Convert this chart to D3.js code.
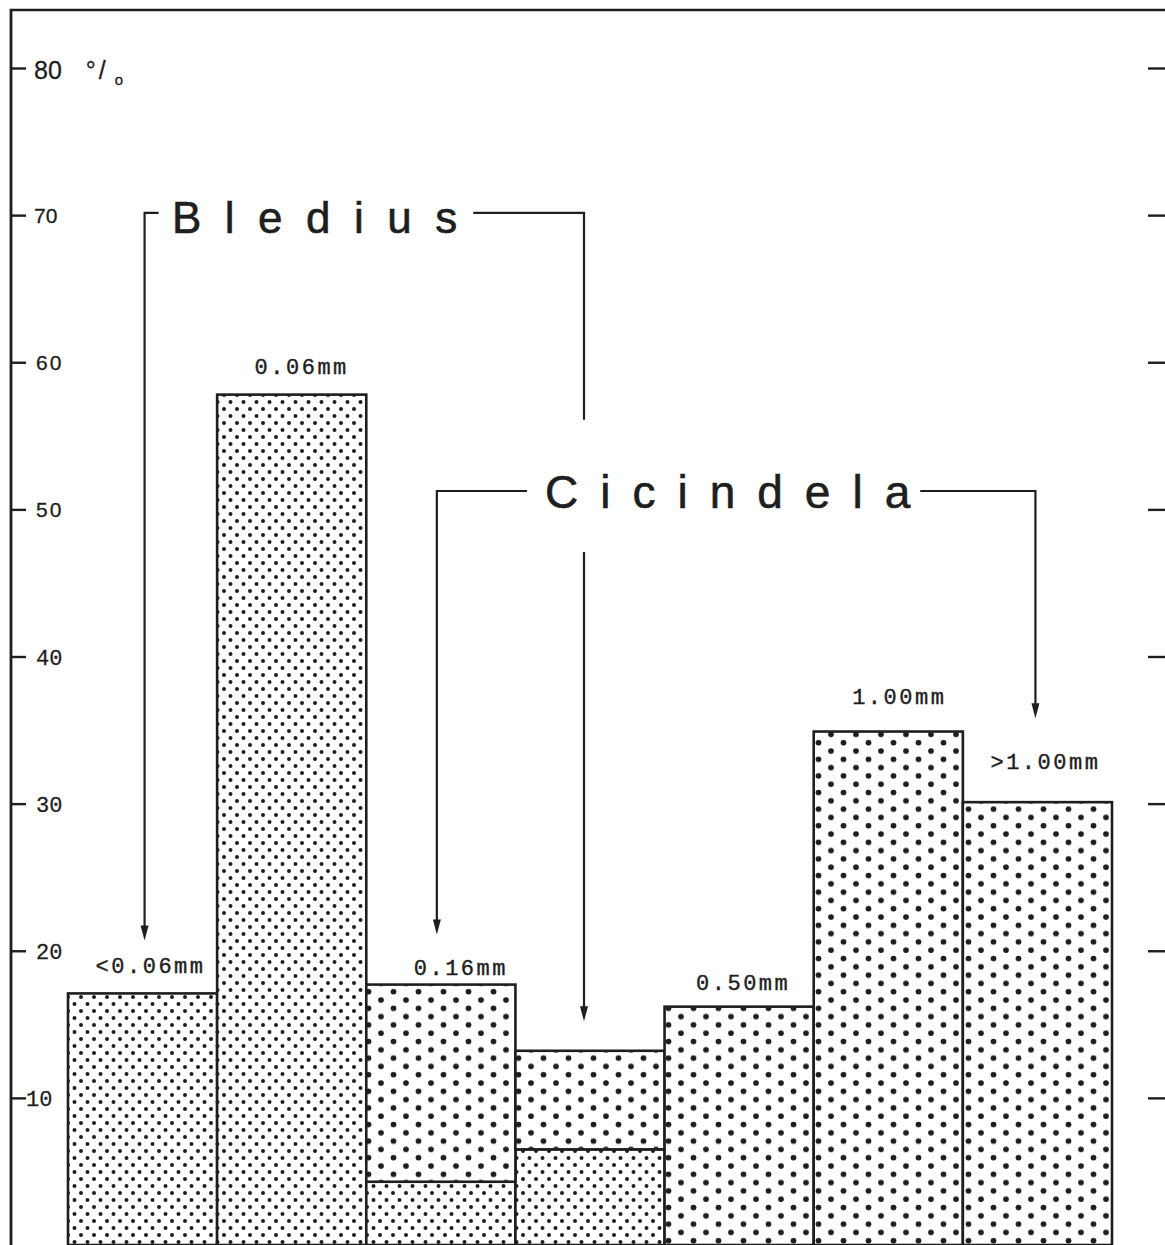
<!DOCTYPE html>
<html>
<head>
<meta charset="utf-8">
<script src="https://cdn.jsdelivr.net/npm/d3@7"></script>
<style>
  html, body { margin: 0; padding: 0; background: #ffffff; }
  svg { display: block; }
</style>
</head>
<body>
<script>
// ---------------- data ----------------
const categories   = ["<0.06mm", "0.06mm", "0.16mm", "", "0.50mm", "1.00mm", ">1.00mm"];
const fineValues   = [17.1, 57.8, 4.3, 6.5, 0, 0, 0];      // fine-dot segment (%)
const coarseValues = [0, 0, 13.4, 6.7, 16.2, 34.9, 30.1];   // coarse-dot segment (%)
const tickValues   = [10, 20, 30, 40, 50, 60, 70, 80];
const tickLabels   = ["10", "20", "30", "40", "50", "60", "70", "80"];
const groupNames   = ["Bledius", "Cicindela"];
// arrow targets: [category index, value at arrow tip]
const bolediusTargets  = [[0, 20.7], [3, 15.2]];
const cicindelaTargets = [[2, 21.1], [6, 35.8]];

// ---------------- layout ----------------
const W = 1165, H = 1245;
const ink = "#1e1e1e";
const svg = d3.select("body").append("svg").attr("width", W).attr("height", H);

const x = d3.scaleBand().domain(d3.range(categories.length)).range([68, 1112]).padding(0);
const y = d3.scaleLinear().domain([0, 80]).range([1245, 68]);

// patterns
const defs = svg.append("defs");
const fine = defs.append("pattern").attr("id", "fine").attr("patternUnits", "userSpaceOnUse")
  .attr("width", 13).attr("height", 14);
fine.append("rect").attr("width", 13).attr("height", 14).attr("fill", "#fff");
fine.append("circle").attr("cx", 3).attr("cy", 3).attr("r", 2.0).attr("fill", ink);
fine.append("circle").attr("cx", 9.5).attr("cy", 10).attr("r", 2.0).attr("fill", ink);
const coarse = defs.append("pattern").attr("id", "coarse").attr("patternUnits", "userSpaceOnUse")
  .attr("width", 25).attr("height", 16.6);
coarse.append("rect").attr("width", 25).attr("height", 16.6).attr("fill", "#fff");
coarse.append("circle").attr("cx", 6).attr("cy", 4).attr("r", 2.9).attr("fill", ink);
coarse.append("circle").attr("cx", 18.5).attr("cy", 12.3).attr("r", 2.9).attr("fill", ink);

// stacked data
const rows = categories.map((c, i) => ({ i, fine: fineValues[i], coarse: coarseValues[i] }));
const stack = d3.stack().keys(["fine", "coarse"])(rows);

svg.append("g").selectAll("g").data(stack).join("g")
  .attr("fill", d => d.key === "fine" ? "url(#fine)" : "url(#coarse)")
  .selectAll("rect").data(d => d.filter(s => s[1] - s[0] > 0)).join("rect")
  .attr("x", d => x(d.data.i))
  .attr("width", x.bandwidth())
  .attr("y", d => y(d[1]))
  .attr("height", d => y(d[0]) - y(d[1]))
  .attr("stroke", ink).attr("stroke-width", 2.6);

// category labels (hand-placed nudges as in the original)
const labelNudge = [[8, -20], [10, -21], [20, -10], [0, 0], [4, -17], [11, -28], [8, -33]];
svg.append("g").selectAll("text").data(rows.filter(r => categories[r.i] !== "")).join("text")
  .attr("x", d => x(d.i) + x.bandwidth() / 2 + labelNudge[d.i][0])
  .attr("y", d => y(d.fine + d.coarse) + labelNudge[d.i][1])
  .attr("text-anchor", "middle")
  .attr("font-family", "'Liberation Mono', 'Courier New', monospace")
  .attr("font-size", 22).attr("letter-spacing", 2.5)
  .attr("fill", ink).attr("stroke", ink).attr("stroke-width", 0.4)
  .text(d => categories[d.i]);

// frame: top line + left axis line
svg.append("line").attr("x1", 10).attr("x2", W).attr("y1", 10).attr("y2", 10)
  .attr("stroke", ink).attr("stroke-width", 2.6);
svg.append("line").attr("x1", 11).attr("x2", 11).attr("y1", 9).attr("y2", H)
  .attr("stroke", ink).attr("stroke-width", 2.8);

// left axis ticks + labels
const leftAxis = d3.axisRight(y).tickValues(tickValues).tickSize(15).tickPadding(10)
  .tickFormat((d, i) => tickLabels[i]);
const gl = svg.append("g").attr("transform", "translate(11,0)").call(leftAxis);
gl.select(".domain").remove();
gl.selectAll(".tick line").attr("stroke", ink).attr("stroke-width", 2.4);
gl.selectAll(".tick text").attr("fill", ink)
  .attr("font-family", d => d >= 50 ? "'Liberation Sans', Arial, sans-serif" : "'Liberation Mono', 'Courier New', monospace")
  .attr("font-size", d => d === 80 ? 25 : d >= 50 ? 21 : 22)
  .attr("letter-spacing", d => d >= 50 && d <= 60 ? 2 : 0)
  .attr("dx", d => d === 10 ? -10 : d >= 70 ? -2 : 0)
  .attr("dy", d => d === 80 ? "0.4em" : "0.35em")
  .attr("stroke", ink).attr("stroke-width", 0.3);
// "80 °/o"
gl.selectAll(".tick text").filter(d => d === 80).each(function () {
  const t = d3.select(this);
  t.append("tspan").text("\u00b0").attr("font-size", 25).attr("dx", 24);
  t.append("tspan").text("/").attr("font-size", 25).attr("dx", 3);
  t.append("tspan").text("o").attr("font-size", 15).attr("dx", 9).attr("dy", 6);
});

// right ticks
const rightAxis = d3.axisLeft(y).tickValues(tickValues).tickSize(17).tickFormat("");
const gr = svg.append("g").attr("transform", `translate(${W},0)`).call(rightAxis);
gr.select(".domain").remove();
gr.selectAll(".tick line").attr("stroke", ink).attr("stroke-width", 2.4);

// ---------------- group annotations ----------------
const ann = svg.append("g").attr("stroke", ink).attr("stroke-width", 2.2).attr("fill", "none");
function arrowHead(xp, tipY) {
  svg.append("path")
    .attr("d", `M${xp - 4},${tipY - 15} L${xp + 4},${tipY - 15} L${xp},${tipY} Z`)
    .attr("fill", ink);
}
const cx = i => x(i) + x.bandwidth() / 2;

// Bledius
const bY = y(70.15);
const bL = cx(bolediusTargets[0][0]) + 2;
const bR = cx(bolediusTargets[1][0]) - 6;
const bText = svg.append("text").attr("x", 172).attr("y", bY + 20)
  .attr("font-family", "'Liberation Sans', Arial, sans-serif").attr("font-size", 44)
  .attr("letter-spacing", 23.5).attr("fill", ink).attr("stroke", ink).attr("stroke-width", 0.6)
  .text(groupNames[0]);
const bEnd = 172 + bText.node().getComputedTextLength() - 23.5 + 16;
ann.append("path").attr("d", `M${bL + 14},${bY} H${bL} V${y(bolediusTargets[0][1]) - 8}`);
arrowHead(bL, y(bolediusTargets[0][1]));
ann.append("path").attr("d", `M${bEnd},${bY} H${bR} V${y(56.1)}`);
ann.append("path").attr("d", `M${bR},${y(47.1)} V${y(bolediusTargets[1][1]) - 8}`);
arrowHead(bR, y(bolediusTargets[1][1]));

// Cicindela
const cY = y(51.25);
const cL = cx(cicindelaTargets[0][0]) - 4;
const cR = cx(cicindelaTargets[1][0]) - 2;
const cText = svg.append("text").attr("x", 545).attr("y", cY + 17)
  .attr("font-family", "'Liberation Sans', Arial, sans-serif").attr("font-size", 46)
  .attr("letter-spacing", 22).attr("fill", ink).attr("stroke", ink).attr("stroke-width", 0.6)
  .text(groupNames[1]);
const cEnd = 545 + cText.node().getComputedTextLength() - 22 + 10;
ann.append("path").attr("d", `M${545 - 18},${cY} H${cL} V${y(cicindelaTargets[0][1]) - 8}`);
arrowHead(cL, y(cicindelaTargets[0][1]));
ann.append("path").attr("d", `M${cEnd},${cY} H${cR} V${y(cicindelaTargets[1][1]) - 8}`);
arrowHead(cR, y(cicindelaTargets[1][1]));
</script>
</body>
</html>
